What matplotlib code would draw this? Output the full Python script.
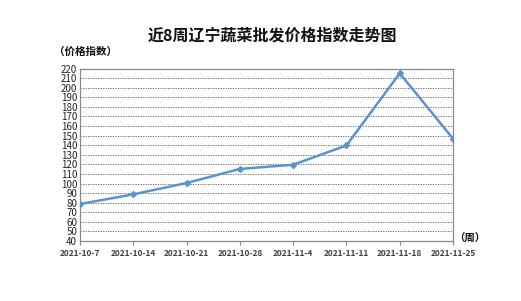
import numpy as np
import matplotlib.pyplot as plt

plt.rcParams['font.family'] = ['Noto Sans CJK SC', 'DejaVu Sans']

weeks = ["2021-10-7", "2021-10-14", "2021-10-21", "2021-10-28",
         "2021-11-4", "2021-11-11", "2021-11-18", "2021-11-25"]
index_values = [78.6, 88.7, 100.5, 115.2, 119.6, 139.7, 215.0, 146.8]
y_ticks = list(range(40, 221, 10))

fig = plt.figure(figsize=(5.21, 3.01), dpi=100)
ax = fig.add_axes([0.1536, 0.1993, 0.7159, 0.5731])

x = np.arange(len(weeks))
ax.plot(x, index_values, color='#5b93d0', linewidth=1.8, marker='D',
        markersize=3, zorder=3)

ax.set_xlim(0, len(weeks) - 1)
ax.set_ylim(40, 220)
ax.set_yticks(y_ticks)
ax.set_xticks(x)
ax.set_xticklabels(weeks, fontsize=6, color='#404040', fontweight='bold')
ax.tick_params(axis='y', labelsize=7, length=0, pad=2, colors='#222222')
ax.tick_params(axis='x', length=3, width=0.8, color='#888888', pad=3)

ax.grid(axis='y', linestyle=(0, (1.5, 1.5)), color='#555555', linewidth=0.6)
ax.set_axisbelow(True)
for s in ax.spines.values():
    s.set_color('#888888')
    s.set_linewidth(0.9)

fig.text(0.522, 0.883, "近8周辽宁蔬菜批发价格指数走势图", ha='center', va='center',
         fontsize=11.5, fontweight='bold', color='#111111')
fig.text(0.103, 0.828, "（价格指数）", ha='left', va='center', fontsize=7.6,
         fontweight='bold', color='#111111')
fig.text(0.872, 0.205, "（周）", ha='left', va='center', fontsize=7.5,
         fontweight='bold', color='#111111')

fig.savefig("out.png", dpi=100)
